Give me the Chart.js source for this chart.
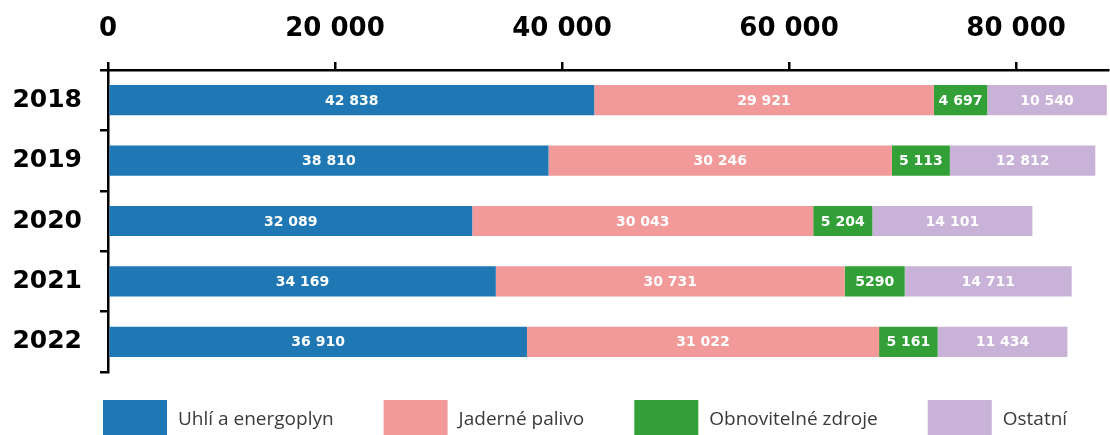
<!DOCTYPE html>
<html>
<head>
<meta charset="utf-8">
<script src="https://cdn.jsdelivr.net/npm/chart.js@4/dist/chart.umd.min.js"></script>
<style>
  html, body { margin: 0; padding: 0; background: #fff; }
</style>
</head>
<body>
<canvas id="graf" width="1110" height="435"></canvas>
<script>
// Data
const roky = ['2018', '2019', '2020', '2021', '2022'];
const uhli = [42838, 38810, 32089, 34169, 36910];
const jaderne = [29921, 30246, 30043, 30731, 31022];
const obnovitelne = [4697, 5113, 5204, 5290, 5161];
const ostatni = [10540, 12812, 14101, 14711, 11434];
// popisky zelené řady (5290 je v originále bez mezery)
const obnovitelneText = ['4 697', '5 113', '5 204', '5290', '5 161'];
const osaX = [0, 20000, 40000, 60000, 80000];

const barvy = ['#1f78b4', '#f29999', '#33a037', '#c9b2d7'];

function cislo(v) {
    return String(v).replace(/\B(?=(\d{3})+(?!\d))/g, ' ');
}

// popisky uvnitř segmentů
const popiskyPlugin = {
    id: 'popisky',
    afterDatasetsDraw(chart) {
        const ctx = chart.ctx;
        ctx.save();
        ctx.font = 'bold 14px "DejaVu Sans"';
        ctx.fillStyle = '#fff';
        ctx.textAlign = 'center';
        ctx.textBaseline = 'middle';
        chart.data.datasets.forEach((ds, i) => {
            const meta = chart.getDatasetMeta(i);
            meta.data.forEach((bar, j) => {
                const txt = ds.texty ? ds.texty[j] : cislo(ds.data[j]);
                ctx.fillText(txt, (bar.x + bar.base) / 2, bar.y + 1);
            });
        });
        ctx.restore();
    }
};

// legenda dole
const legendaPlugin = {
    id: 'legenda',
    afterDraw(chart) {
        const ctx = chart.ctx;
        let x = 103;
        ctx.save();
        ctx.font = '19px "Open Sans"';
        ctx.textBaseline = 'middle';
        chart.data.datasets.forEach(ds => {
            ctx.fillStyle = ds.backgroundColor;
            ctx.fillRect(x, 400, 64, 35);
            ctx.fillStyle = '#3a3a3a';
            ctx.fillText(ds.label, x + 75, 420);
            x += 75 + ctx.measureText(ds.label).width + 50;
        });
        ctx.restore();
    }
};

new Chart(document.getElementById('graf'), {
    type: 'bar',
    data: {
        labels: roky,
        datasets: [
            { label: 'Uhlí a energoplyn', data: uhli, backgroundColor: barvy[0] },
            { label: 'Jaderné palivo', data: jaderne, backgroundColor: barvy[1] },
            { label: 'Obnovitelné zdroje', data: obnovitelne, backgroundColor: barvy[2], texty: obnovitelneText },
            { label: 'Ostatní', data: ostatni, backgroundColor: barvy[3] },
        ],
    },
    options: {
        indexAxis: 'y',
        responsive: false,
        animation: false,
        layout: { padding: { left: 0, right: 2, top: 0, bottom: 63 } },
        datasets: {
            bar: { barPercentage: 0.5, categoryPercentage: 1, borderWidth: 0 }
        },
        scales: {
            x: {
                position: 'top',
                stacked: true,
                min: 0,
                max: 88100,
                afterBuildTicks: s => { s.ticks = osaX.map(v => ({ value: v })); },
                afterFit: s => { s.height = 70; },
                grid: { drawOnChartArea: false, tickLength: 8, color: '#000', lineWidth: 2.5 },
                border: { color: '#000', width: 2.5 },
                ticks: {
                    padding: 17,
                    color: '#000',
                    font: { family: 'DejaVu Sans', weight: 'bold', size: 26 },
                    callback: v => cislo(v)
                }
            },
            y: {
                stacked: true,
                afterFit: s => { s.width = 108; },
                grid: { offset: true, drawOnChartArea: false, tickLength: 8, color: '#000', lineWidth: 2.5 },
                border: { color: '#000', width: 2.5 },
                ticks: {
                    padding: 18,
                    color: '#000',
                    font: { family: 'DejaVu Sans', weight: 'bold', size: 25 }
                }
            }
        },
        plugins: {
            legend: { display: false },
            tooltip: { enabled: false }
        }
    },
    plugins: [popiskyPlugin, legendaPlugin]
});
</script>
</body>
</html>
